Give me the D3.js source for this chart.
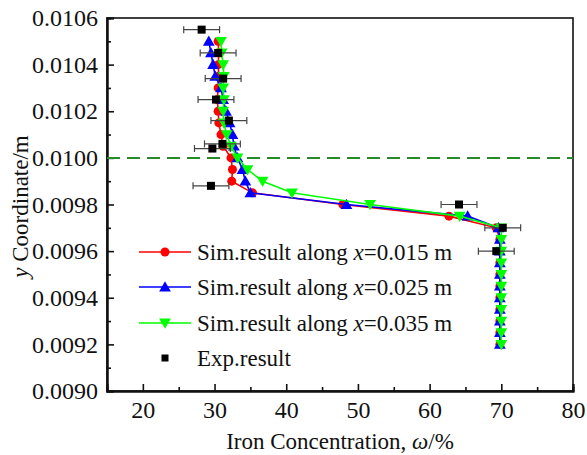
<!DOCTYPE html>
<html>
<head>
<meta charset="utf-8">
<script src="https://cdn.jsdelivr.net/npm/d3@7"></script>
<style>
  @font-face { font-family: "ChartSerif"; src: local("Liberation Serif"), local("LiberationSerif-Regular"); font-style: normal; }
  @font-face { font-family: "ChartSerif"; src: local("Liberation Serif Italic"), local("LiberationSerif-Italic"); font-style: italic; }
  html body svg text, html body svg tspan { font-family: "Liberation Serif", ChartSerif, Tinos, "Times New Roman", serif !important; }
</style>
</head>
<body style="margin:0">
<script>
// y positions of the simulation nodes (m)
var simY = [0.0105, 0.01045, 0.0104, 0.01035, 0.0103, 0.01025, 0.0102, 0.01015, 0.0101, 0.01005,
            0.0100, 0.00995, 0.0099, 0.00985, 0.0098, 0.00975, 0.0097, 0.00965, 0.0096, 0.00955,
            0.0095, 0.00945, 0.0094, 0.00935, 0.0093, 0.00925, 0.0092];
// iron concentration along x=0.015 m
var simRed = [30.5, 30.6, 30.5, 30.6, 30.5, 30.4, 30.5, 30.6, 30.9, 31.2,
              32.3, 32.5, 32.4, 35.3, 47.9, 62.7, 69.3, 69.8, 69.8, 69.8,
              69.8, 69.8, 69.8, 69.8, 69.8, 69.8, 69.8];
// along x=0.025 m
var simBlue = [29.2, 29.5, 29.8, 30.1, 30.9, 31.2, 31.6, 32.1, 32.5, 32.7,
               33.2, 33.9, 34.3, 35.0, 48.4, 65.3, 69.6, 69.8, 69.8, 69.8,
               69.8, 69.8, 69.8, 69.8, 69.8, 69.8, 69.8];
// along x=0.035 m
var simGreen = [30.9, 31.0, 31.2, 31.3, 31.2, 31.3, 31.2, 31.3, 31.7, 32.3,
                33.2, 34.6, 36.7, 40.8, 51.7, 64.2, 70.0, 70.0, 70.0, 70.0,
                70.0, 70.0, 70.0, 70.0, 70.0, 70.0, 70.0];
// experiment
var expY = [0.01055, 0.01045, 0.01034, 0.01025, 0.01016, 0.01006, 0.01004, 0.00988, 0.00980, 0.00970, 0.00960];
var expX = [28.2, 30.5, 31.2, 30.2, 32.0, 31.1, 29.7, 29.5, 64.1, 70.2, 69.3];
var expErr = [2.5, 2.5, 2.5, 2.5, 2.5, 2.5, 2.5, 2.5, 2.5, 2.5, 2.5];

var xTicks = [20, 30, 40, 50, 60, 70, 80];
var xMinor = [25, 35, 45, 55, 65, 75];
var yTicks = [0.0090, 0.0092, 0.0094, 0.0096, 0.0098, 0.0100, 0.0102, 0.0104, 0.0106];
var yMinor = [0.0091, 0.0093, 0.0095, 0.0097, 0.0099, 0.0101, 0.0103, 0.0105];
var interfaceY = 0.0100;

var serif = "'Liberation Serif'";
function fontStyle(size, italic) {
    return "font-family: 'Liberation Serif', ChartSerif, serif !important; font-size: " + size + "px;" +
        (italic ? " font-style: italic;" : "");
}

var width = 587, height = 455;
var svg = d3.select("body").append("svg")
    .attr("width", width)
    .attr("height", height)
    .attr("font-family", "Liberation Serif");

var x = d3.scaleLinear().domain([15, 80]).range([107, 573]);
var y = d3.scaleLinear().domain([0.0090, 0.0106]).range([391, 18]);

// frame
svg.append("rect")
    .attr("x", x(15)).attr("y", y(0.0106))
    .attr("width", x(80) - x(15)).attr("height", y(0.0090) - y(0.0106))
    .attr("fill", "none").attr("stroke", "#111").attr("stroke-width", 1.6);

var axes = [
    svg.append("g").attr("transform", "translate(0," + y(0.0090) + ")")
        .call(d3.axisBottom(x).tickValues(xTicks).tickSize(-7).tickPadding(10).tickFormat(d3.format("d"))),
    svg.append("g").attr("transform", "translate(0," + y(0.0090) + ")")
        .call(d3.axisBottom(x).tickValues(xMinor).tickSize(-4).tickFormat("")),
    svg.append("g").attr("transform", "translate(" + x(15) + ",0)")
        .call(d3.axisLeft(y).tickValues(yTicks).tickSize(-7).tickPadding(9).tickFormat(d3.format(".4f"))),
    svg.append("g").attr("transform", "translate(" + x(15) + ",0)")
        .call(d3.axisLeft(y).tickValues(yMinor).tickSize(-4).tickFormat(""))
];
axes.forEach(function(a) {
    a.attr("font-family", "Liberation Serif").attr("font-size", 24);
});

svg.selectAll(".domain").attr("stroke", "#111").attr("stroke-width", 2);
svg.selectAll(".tick line").attr("stroke", "#111").attr("stroke-width", 1.6);
svg.selectAll(".tick text").attr("fill", "#111").attr("style", fontStyle(24));

// dashed interface line
svg.append("line")
    .attr("x1", x(15)).attr("x2", x(80))
    .attr("y1", y(interfaceY)).attr("y2", y(interfaceY))
    .attr("stroke", "#2a8a2a").attr("stroke-width", 2)
    .attr("stroke-dasharray", "13,7");

var line = d3.line()
    .x(function(d) { return x(d[0]); })
    .y(function(d) { return y(d[1]); });

var tri = d3.symbol().type(d3.symbolTriangle).size(60);

var series = [
    {vals: simRed, color: "#ff0000", marker: "circle"},
    {vals: simBlue, color: "#0000ff", marker: "up"},
    {vals: simGreen, color: "#00ff00", marker: "down"}
];

function drawMarker(g, kind, color, px, py) {
    if (kind == "circle") {
        g.append("circle").attr("cx", px).attr("cy", py).attr("r", 4.5).attr("fill", color);
    } else if (kind == "up") {
        g.append("path").attr("d", tri()).attr("fill", color)
            .attr("transform", "translate(" + px + "," + (py + 1) + ")");
    } else if (kind == "down") {
        g.append("path").attr("d", tri()).attr("fill", color)
            .attr("transform", "translate(" + px + "," + (py - 1) + ") rotate(180)");
    } else {
        g.append("rect").attr("x", px - 4).attr("y", py - 4)
            .attr("width", 8).attr("height", 8).attr("fill", "#000");
    }
}

series.forEach(function(s) {
    var pts = s.vals.map(function(v, i) { return [v, simY[i]]; });
    var g = svg.append("g");
    g.append("path").attr("d", line(pts))
        .attr("fill", "none").attr("stroke", s.color).attr("stroke-width", 1.6);
    pts.forEach(function(p) {
        drawMarker(g, s.marker, s.color, x(p[0]), y(p[1]));
    });
});

// experimental points with horizontal error bars
var eg = svg.append("g");
expX.forEach(function(v, i) {
    var py = y(expY[i]);
    var x0 = x(v - expErr[i]), x1 = x(v + expErr[i]);
    eg.append("line").attr("x1", x0).attr("x2", x1).attr("y1", py).attr("y2", py)
        .attr("stroke", "#444").attr("stroke-width", 1.2);
    [x0, x1].forEach(function(cx) {
        eg.append("line").attr("x1", cx).attr("x2", cx).attr("y1", py - 3.5).attr("y2", py + 3.5)
            .attr("stroke", "#444").attr("stroke-width", 1.2);
    });
    drawMarker(eg, "square", "#000", x(v), py);
});

// legend
var legend = [
    {label: "0.015 m", color: "#ff0000", marker: "circle", yy: 252},
    {label: "0.025 m", color: "#0000ff", marker: "up", yy: 287},
    {label: "0.035 m", color: "#00ff00", marker: "down", yy: 323},
    {label: null, color: "#000", marker: "square", yy: 358}
];
legend.forEach(function(d) {
    var g = svg.append("g");
    var t = g.append("text").attr("x", 197).attr("y", d.yy + 7.5)
        .attr("fill", "#111").attr("style", fontStyle(23));
    if (d.label) {
        g.append("line").attr("x1", 139).attr("x2", 191).attr("y1", d.yy).attr("y2", d.yy)
            .attr("stroke", d.color).attr("stroke-width", 1.6);
        drawMarker(g, d.marker, d.color, 165, d.yy);
        t.append("tspan").attr("style", fontStyle(23)).text("Sim.result along ");
        t.append("tspan").attr("style", fontStyle(23, true)).text("x");
        t.append("tspan").attr("style", fontStyle(23)).text("=" + d.label);
    } else {
        g.append("rect").attr("x", 161.5).attr("y", d.yy - 3.5).attr("width", 7).attr("height", 7).attr("fill", "#000");
        t.text("Exp.result");
    }
});

// axis titles
var xt = svg.append("text").attr("x", (x(15) + x(80)) / 2).attr("y", 449)
    .attr("text-anchor", "middle").attr("fill", "#111").attr("style", fontStyle(23));
xt.append("tspan").attr("style", fontStyle(23)).text("Iron Concentration, ");
xt.append("tspan").attr("style", fontStyle(23, true)).text("ω");
xt.append("tspan").attr("style", fontStyle(23)).text("/%");

var yt = svg.append("text")
    .attr("transform", "translate(28," + ((y(0.0090) + y(0.0106)) / 2 + 2) + ") rotate(-90)")
    .attr("text-anchor", "middle").attr("fill", "#111").attr("style", fontStyle(23));
yt.append("tspan").attr("style", fontStyle(23, true)).text("y");
yt.append("tspan").attr("style", fontStyle(23)).text(" Coordinate/m");
</script>
</body>
</html>
